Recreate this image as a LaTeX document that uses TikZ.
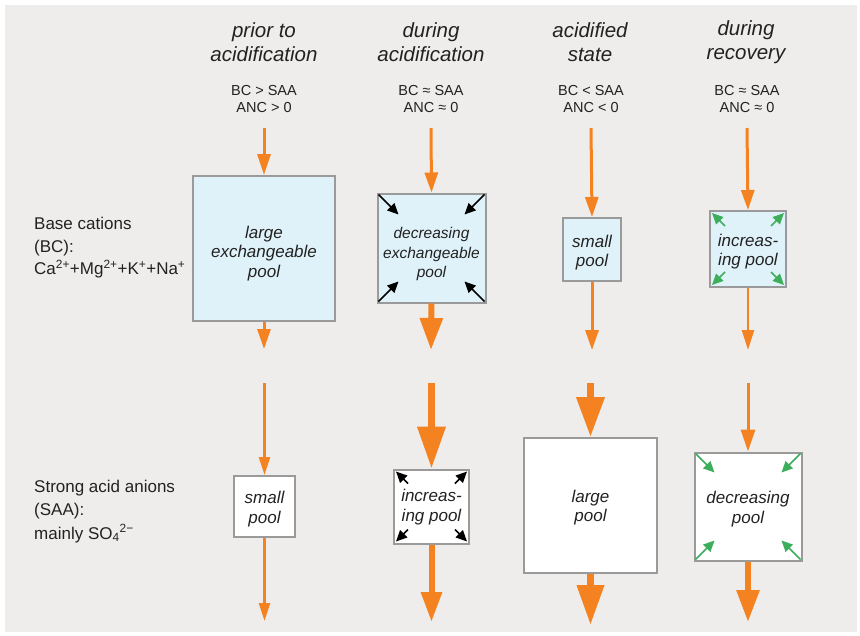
\documentclass[tikz,border=0pt]{standalone}
\usepackage{fontspec}
\setmainfont{Liberation Sans}
\usetikzlibrary{arrows.meta,calc}
\definecolor{bgc}{HTML}{EEEDEB}
\definecolor{org}{HTML}{F58220}
\definecolor{grn}{HTML}{3DAE5B}
\definecolor{bluef}{HTML}{E0F2F9}
\definecolor{bord}{HTML}{9A9A9A}
\definecolor{txt}{HTML}{222222}
\tikzset{
  head/.style={font=\fontsize{20.5}{23.5}\selectfont\itshape, text=txt, align=center, inner sep=0},
  cond/.style={font=\fontsize{14.5}{17.5}\selectfont, text=txt, align=center, inner sep=0},
  side/.style={font=\fontsize{17}{22.5}\selectfont, text=txt, align=left, anchor=north west, inner sep=0},
  pool/.style={draw=bord, line width=2pt, inner sep=0},
  bcbox/.style={pool, fill=bluef},
  saabox/.style={pool, fill=white},
  pooltext/.style={font=\fontsize{17}{19.5}\selectfont\itshape, text=txt, align=center, inner sep=0},
  oarr/.style n args={3}{draw=org, line width=#1, -{Triangle[length=#2,width=#3]}},
  carr/.style={line width=1.7pt, -{Triangle[length=11pt,width=10pt]}},
}
\begin{document}
\begin{tikzpicture}[x=1pt,y=-1pt]
\useasboundingbox (0,0) rectangle (860,635);
\fill[white] (0,0) rectangle (860,635);
\fill[bgc] (5,5) rectangle (857,632);

% headers
\node[head] (h1) at (264,42) {prior to\\acidification};
\node[head] (h2) at (431,42) {during\\acidification};
\node[head] (h3) at (590,42) {acidified\\state};
\node[head] (h4) at (746,42) {during\\recovery};

\node[cond] (c1) at (264,99) {BC > SAA\\ANC > 0};
\node[cond] (c2) at (431,99) {BC ≈ SAA\\ANC ≈ 0};
\node[cond] (c3) at (591,99) {BC < SAA\\ANC < 0};
\node[cond] (c4) at (747,99) {BC ≈ SAA\\ANC ≈ 0};

% side labels
\node[side] (sbc) at (34,217) {Base cations\\(BC):\\Ca\textsuperscript{2+}+Mg\textsuperscript{2+}+K\textsuperscript{+}+Na\textsuperscript{+}};
\node[side] (ssaa) at (34,480) {Strong acid anions\\(SAA):\\[1.5pt]mainly SO\textsubscript{4}\textsuperscript{2−}};

% BC boxes
\node[bcbox, minimum width=142pt, minimum height=145pt] (b1) at (264,248.5) {};
\node[bcbox, minimum width=108pt, minimum height=109pt] (b2) at (431.5,248) {};
\node[bcbox, minimum width=58pt, minimum height=63pt] (b3) at (592,249.5) {};
\node[bcbox, minimum width=76pt, minimum height=76pt] (b4) at (748,249) {};

% SAA boxes
\node[saabox, minimum width=61pt, minimum height=61pt] (s1) at (264.5,506.5) {};
\node[saabox, minimum width=75pt, minimum height=74pt] (s2) at (431.5,506.5) {};
\node[saabox, minimum width=133pt, minimum height=135pt] (s3) at (590.5,505.5) {};
\node[saabox, minimum width=107pt, minimum height=108pt] (s4) at (748,506.5) {};

% pool texts
\node[pooltext] (b1t) at ($(b1)+(0,5)$) {large\\exchangeable\\pool};
\node[pooltext, font=\fontsize{15.5}{19.5}\selectfont\itshape] (b2t) at ($(b2)+(0,6)$) {decreasing\\exchangeable\\pool};
\node[pooltext] (b3t) at ($(b3)+(0,3)$) {small\\pool};
\node[pooltext] (b4t) at ($(b4)+(0,2.5)$) {increas-\\ing pool};
\node[pooltext] (s1t) at ($(s1)+(0,2.5)$) {small\\pool};
\node[pooltext] (s2t) at ($(s2)+(0,0.5)$) {increas-\\ing pool};
\node[pooltext] (s3t) at ($(s3)+(0,2)$) {large\\pool};
\node[pooltext] (s4t) at ($(s4)+(0,2.5)$) {decreasing\\pool};

% free-end coordinates
\coordinate (t1) at (264,128); \coordinate (t2) at (431,128);
\coordinate (t3) at (591,128); \coordinate (t4) at (747,128);
\coordinate (m1) at (264,349); \coordinate (m2) at (431,350);
\coordinate (m3) at (592,350); \coordinate (m4) at (748,350);
\coordinate (n1) at (264.5,383); \coordinate (n2) at (431.5,383);
\coordinate (n3) at (590.5,383); \coordinate (n4) at (748,383);
\coordinate (e1) at (264.5,621); \coordinate (e2) at (431.5,622);
\coordinate (e3) at (590.5,625); \coordinate (e4) at (748,622);

% orange arrows
\draw[oarr={3pt}{21pt}{13pt}] (t1) -- (b1.north);
\draw[oarr={3pt}{20pt}{13pt}] (t2) -- (b2.north);
\draw[oarr={3pt}{20pt}{13pt}] (t3) -- (b3.north);
\draw[oarr={3pt}{20pt}{13pt}] (t4) -- (b4.north);

\draw[oarr={3pt}{20pt}{13pt}] (b1.south) -- (m1);
\draw[oarr={6pt}{32pt}{22pt}] (b2.south) -- (m2);
\draw[oarr={3pt}{20pt}{13pt}] (b3.south) -- (m3);
\draw[oarr={2.5pt}{20pt}{12pt}] (b4.south) -- (m4);

\draw[oarr={2.5pt}{18pt}{11pt}] (n1) -- (s1.north);
\draw[oarr={7pt}{42pt}{27pt}] (n2) -- (s2.north);
\draw[oarr={7pt}{40pt}{27pt}] (n3) -- (s3.north);
\draw[oarr={3pt}{22pt}{14pt}] (n4) -- (s4.north);

\draw[oarr={2.5pt}{18pt}{11pt}] (s1.south) -- (e1);
\draw[oarr={6pt}{30pt}{20pt}] (s2.south) -- (e2);
\draw[oarr={7pt}{40pt}{26pt}] (s3.south) -- (e3);
\draw[oarr={6pt}{32pt}{22pt}] (s4.south) -- (e4);

% corner arrows: box b2 inward (black)
\draw[carr, black] ($(b2.north west)+(2,2)$) -- ++(20,20);
\draw[carr, black] ($(b2.north east)+(-2,2)$) -- ++(-20,20);
\draw[carr, black] ($(b2.south west)+(2,-2)$) -- ++(20,-20);
\draw[carr, black] ($(b2.south east)+(-2,-2)$) -- ++(-20,-20);
% box b4 outward (green)
\draw[carr, grn] ($(b4.north west)+(16,16)$) -- ++(-13,-13);
\draw[carr, grn] ($(b4.north east)+(-16,16)$) -- ++(13,-13);
\draw[carr, grn] ($(b4.south west)+(16,-16)$) -- ++(-13,13);
\draw[carr, grn] ($(b4.south east)+(-16,-16)$) -- ++(13,13);
% box s2 outward (black)
\draw[carr, black] ($(s2.north west)+(15,15)$) -- ++(-12,-12);
\draw[carr, black] ($(s2.north east)+(-15,15)$) -- ++(12,-12);
\draw[carr, black] ($(s2.south west)+(15,-15)$) -- ++(-12,12);
\draw[carr, black] ($(s2.south east)+(-15,-15)$) -- ++(12,12);
% box s4 inward (green)
\draw[carr, grn] ($(s4.north west)+(2,2)$) -- ++(19,19);
\draw[carr, grn] ($(s4.north east)+(-2,2)$) -- ++(-19,19);
\draw[carr, grn] ($(s4.south west)+(2,-2)$) -- ++(19,-19);
\draw[carr, grn] ($(s4.south east)+(-2,-2)$) -- ++(-19,-19);
\end{tikzpicture}
\end{document}
